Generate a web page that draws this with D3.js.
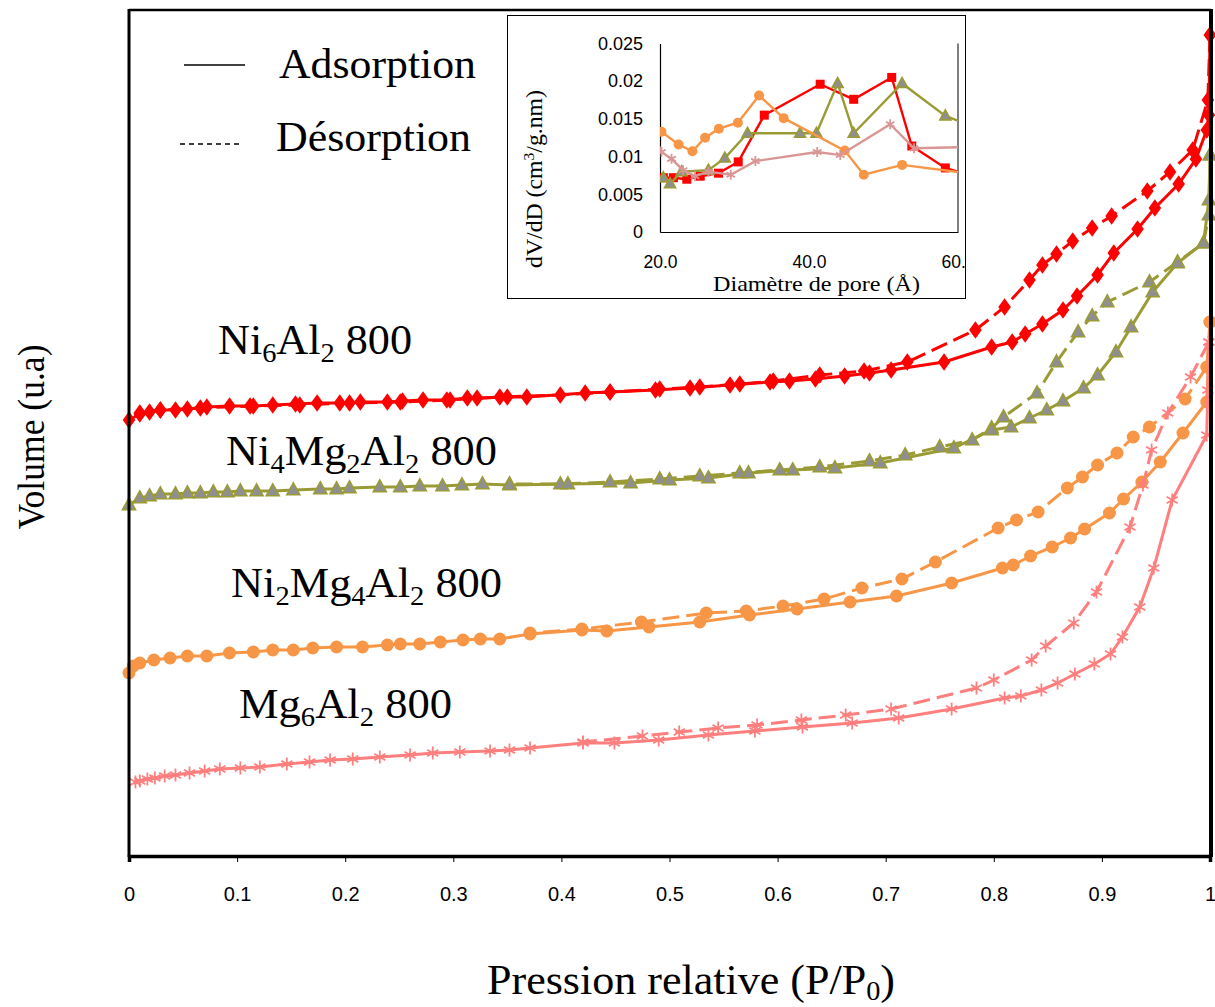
<!DOCTYPE html>
<html><head><meta charset="utf-8">
<script src="https://cdn.jsdelivr.net/npm/d3@7"></script>
<style>body{margin:0;background:#fff}svg{display:block}</style>
</head><body>
<script>
// ---------- DATA (P/P0, volume a.u.) ----------
const xTicks = [0,0.1,0.2,0.3,0.4,0.5,0.6,0.7,0.8,0.9,1];
const ni6Ads = [[0,436],[0.010,442],[0.019,444],[0.029,446],[0.043,446],[0.054,447],[0.072,449],[0.093,450],[0.115,450],[0.133,451],[0.154,452],[0.174,453],[0.195,453],[0.214,454],[0.239,454],[0.253,455],[0.272,456],[0.294,456],[0.313,458],[0.322,458],[0.350,459],[0.368,459],[0.422,463],[0.445,464],[0.487,466],[0.519,468],[0.556,471],[0.593,474],[0.611,475],[0.635,477],[0.662,480],[0.685,483],[0.705,486],[0.754,494],[0.798,509],[0.817,514],[0.829,522],[0.845,532],[0.864,546],[0.877,560],[0.896,581],[0.911,603],[0.933,627],[0.949,648],[0.971,672],[0.987,697],[0.997,726],[0.999,741],[1.000,821]];
const ni6Des = [[1.000,821],[0.998,756],[0.984,706],[0.963,684],[0.942,665],[0.909,640],[0.891,628],[0.873,615],[0.858,602],[0.845,591],[0.833,576],[0.810,549],[0.783,526],[0.720,494],[0.680,485],[0.639,481],[0.596,475],[0.565,472],[0.528,469],[0.491,467],[0.445,464],[0.399,461],[0.343,459],[0.297,456],[0.251,454],[0.204,453],[0.158,451],[0.112,450],[0.066,448],[0.029,446],[0.010,443]];
const ni4Ads = [[0,351],[0.010,358],[0.019,360],[0.029,362],[0.043,362],[0.054,363],[0.066,363],[0.078,364],[0.091,364],[0.103,365],[0.118,365],[0.133,365],[0.152,366],[0.177,367],[0.192,367],[0.204,368],[0.232,369],[0.251,369],[0.269,370],[0.290,370],[0.308,371],[0.327,372],[0.352,371],[0.406,372],[0.464,373],[0.500,376],[0.536,378],[0.573,383],[0.614,386],[0.653,388],[0.695,393],[0.763,408],[0.798,426],[0.816,429],[0.833,438],[0.849,446],[0.864,455],[0.883,468],[0.896,481],[0.913,504],[0.927,529],[0.947,564],[0.970,593],[0.994,613],[0.999,656],[1.000,701]];
const ni4Des = [[1.000,701],[0.999,641],[0.994,613],[0.970,594],[0.944,574],[0.905,554],[0.891,540],[0.878,524],[0.858,494],[0.840,463],[0.809,439],[0.798,428],[0.780,416],[0.750,409],[0.718,401],[0.685,395],[0.639,389],[0.602,386],[0.565,383],[0.528,380],[0.491,377],[0.445,374],[0.399,372],[0.352,372]];
const ni2Ads = [[0,183],[0.004,190],[0.010,193],[0.023,196],[0.038,198],[0.054,200],[0.072,200],[0.093,203],[0.115,204],[0.133,206],[0.152,206],[0.170,208],[0.192,209],[0.216,209],[0.239,211],[0.251,212],[0.269,212],[0.288,214],[0.309,216],[0.325,217],[0.343,217],[0.371,222],[0.419,226],[0.442,225],[0.481,229],[0.528,234],[0.574,241],[0.618,247],[0.667,254],[0.710,260],[0.761,273],[0.808,288],[0.818,291],[0.834,300],[0.854,309],[0.871,318],[0.884,327],[0.907,343],[0.920,357],[0.937,374],[0.954,394],[0.975,423],[0.997,454],[1.000,534]];
const ni2Des = [[1.000,534],[0.997,489],[0.977,457],[0.944,429],[0.929,419],[0.914,403],[0.896,391],[0.882,379],[0.868,368],[0.841,344],[0.821,336],[0.804,328],[0.746,294],[0.715,277],[0.678,268],[0.643,257],[0.605,250],[0.571,245],[0.534,243],[0.474,234],[0.419,227],[0.371,223]];
const mg6Ads = [[0.006,74],[0.010,75],[0.017,77],[0.024,78],[0.033,80],[0.043,81],[0.056,83],[0.070,85],[0.084,87],[0.103,88],[0.121,89],[0.146,92],[0.167,94],[0.186,96],[0.207,97],[0.232,99],[0.260,101],[0.281,103],[0.306,104],[0.334,105],[0.352,106],[0.371,108],[0.420,113],[0.449,113],[0.490,116],[0.536,121],[0.579,125],[0.623,129],[0.669,133],[0.712,138],[0.761,147],[0.810,158],[0.825,160],[0.844,166],[0.859,173],[0.875,182],[0.893,192],[0.908,202],[0.919,219],[0.935,249],[0.948,288],[0.965,356],[0.997,421],[0.998,466],[0.999,514]];
const mg6Des = [[0.999,514],[0.982,479],[0.961,443],[0.946,406],[0.938,371],[0.926,329],[0.895,264],[0.874,233],[0.848,210],[0.835,196],[0.800,176],[0.784,168],[0.705,147],[0.663,141],[0.622,136],[0.581,131],[0.545,128],[0.509,124],[0.475,120],[0.420,114]];

// inset: pore diameter (Å) vs dV/dD
const insetXTicks = [20,40,60];
const insetYTicks = [0,0.005,0.01,0.015,0.02,0.025];
const psdNi6 = [[20.45,0.0072],[21.8,0.0072],[23.6,0.0070],[25.4,0.0074],[27.85,0.0078],[30.5,0.0093],[34.0,0.0155],[41.5,0.0196],[46.0,0.0176],[51.1,0.0205],[53.8,0.0114],[58.3,0.0085],[62.0,0.0074]];
const psdNi4 = [[20.45,0.0072],[21.35,0.0064],[22.9,0.0080],[26.5,0.0082],[28.7,0.0098],[31.75,0.0131],[38.8,0.0131],[41.0,0.0131],[43.85,0.0197],[46.0,0.0131],[52.5,0.0197],[58.3,0.0154],[62.0,0.0140]];
const psdNi2 = [[19.0,0.0145],[20.2,0.0133],[22.5,0.0116],[24.35,0.0107],[26.05,0.0125],[27.9,0.0137],[30.45,0.0145],[33.3,0.0181],[36.6,0.0151],[44.8,0.0108],[47.35,0.0076],[52.5,0.0089],[62.0,0.0077]];
const psdMg6 = [[19.0,0.0135],[20.2,0.0106],[21.55,0.0097],[23.1,0.0082],[24.7,0.0074],[26.5,0.0080],[29.5,0.0076],[32.8,0.0094],[41.1,0.0106],[44.2,0.0102],[50.9,0.0143],[54.1,0.0111],[62.0,0.0113]];

// ---------- DRAW ----------
const W=1215,H=1007;
const svg=d3.select("body").append("svg").attr("width",W).attr("height",H);
const serif="'Liberation Serif','Times New Roman',serif";
const sans="'Liberation Sans',Arial,sans-serif";
const x=d3.scaleLinear().domain([0,1]).range([129,1210]);
const y=d3.scaleLinear().domain([0,846]).range([856,10]);

const RED="#FF0000",OLIVE="#9B9B36",ORANGE="#F79646",PINK="#FF7F7F";

function marker(g,type,px,py,col,s){
  if(type==="diamond"){
    g.append("path").attr("d",`M${px},${py-s*0.62}L${px+s*0.45},${py}L${px},${py+s*0.62}L${px-s*0.45},${py}Z`).attr("fill",col);
  }else if(type==="square"){
    g.append("rect").attr("x",px-s/2).attr("y",py-s/2).attr("width",s).attr("height",s).attr("fill",col);
  }else if(type==="triangle"){
    const h=s*0.9;
    g.append("path").attr("d",`M${px},${py-h*0.6}L${px+s/2},${py+h*0.4}L${px-s/2},${py+h*0.4}Z`).attr("fill","#8F8F8F").attr("stroke",OLIVE).attr("stroke-width",1.6);
  }else if(type==="circle"){
    g.append("circle").attr("cx",px).attr("cy",py).attr("r",s/2).attr("fill",col);
  }else if(type==="star"){
    const r=s/2;
    g.append("path").attr("d",`M${px},${py-r}L${px},${py+r}M${px-r*0.85},${py-r*0.5}L${px+r*0.85},${py+r*0.5}M${px-r*0.85},${py+r*0.5}L${px+r*0.85},${py-r*0.5}`).attr("stroke",col).attr("stroke-width",1.8).attr("fill","none");
  }
}

const mainSeries=[
  {ads:ni6Ads,des:ni6Des,col:RED,mk:"diamond",ms:14},
  {ads:ni4Ads,des:ni4Des,col:OLIVE,mk:"triangle",ms:13},
  {ads:ni2Ads,des:ni2Des,col:ORANGE,mk:"circle",ms:13},
  {ads:mg6Ads,des:mg6Des,col:PINK,mk:"star",ms:13}
];
const line=d3.line().x(d=>x(d[0])).y(d=>y(d[1]));
const gMain=svg.append("g");
mainSeries.forEach(s=>{
  const g=gMain.append("g");
  g.append("path").datum(s.des).attr("d",line).attr("fill","none").attr("stroke",s.col).attr("stroke-width",3).attr("stroke-dasharray","17,7");
  g.append("path").datum(s.ads).attr("d",line).attr("fill","none").attr("stroke",s.col).attr("stroke-width",3);
  s.des.concat(s.ads).forEach(d=>marker(g,s.mk,x(d[0]),y(d[1]),s.col,s.ms));
});

// frame
svg.append("line").attr("x1",129).attr("x2",1211).attr("y1",10).attr("y2",10).attr("stroke","#000").attr("stroke-width",2.5);
svg.append("line").attr("x1",129).attr("x2",129).attr("y1",9).attr("y2",857).attr("stroke","#000").attr("stroke-width",3);
svg.append("line").attr("x1",1211).attr("x2",1211).attr("y1",9).attr("y2",857).attr("stroke","#000").attr("stroke-width",4);

const xAxis=d3.axisBottom(x).tickValues(xTicks).tickSize(6).tickPadding(25).tickFormat(d=>String(d));
const gx=svg.append("g").attr("transform","translate(0,856)").call(xAxis);
gx.select(".domain").attr("stroke","#000").attr("stroke-width",3.5);
gx.selectAll(".tick line").attr("stroke","#000").attr("stroke-width",1);
gx.selectAll(".tick text").attr("font-family",sans).attr("font-size",20).attr("fill","#000");

function fit(t,w){return t.attr("textLength",w).attr("lengthAdjust","spacingAndGlyphs");}

// axis titles
const xt=svg.append("text").attr("x",487).attr("y",994).attr("font-family",serif).attr("font-size",42);
xt.append("tspan").text("Pression relative (P/P");
xt.append("tspan").attr("font-size",27).attr("dy",6).text("0");
xt.append("tspan").attr("dy",-6).text(")");
fit(xt,408);
fit(svg.append("text").attr("transform","translate(44,437) rotate(-90)").attr("text-anchor","middle").attr("font-family",serif).attr("font-size",37).text("Volume (u.a)"),185);

// legend
svg.append("line").attr("x1",184).attr("x2",245).attr("y1",65).attr("y2",65).attr("stroke","#000").attr("stroke-width",1.3);
svg.append("line").attr("x1",180).attr("x2",243).attr("y1",144).attr("y2",144).attr("stroke","#000").attr("stroke-width",1.3).attr("stroke-dasharray","5,4");
fit(svg.append("text").attr("x",279).attr("y",78).attr("font-family",serif).attr("font-size",42).text("Adsorption"),197);
fit(svg.append("text").attr("x",276).attr("y",151).attr("font-family",serif).attr("font-size",42).text("Désorption"),195);

// sample labels
function label(px,py,w,parts){
  const t=svg.append("text").attr("x",px).attr("y",py).attr("font-family",serif).attr("font-size",42);
  let sub=false;
  parts.forEach(p=>{
    const isSub=p[1];
    const ts=t.append("tspan").text(p[0]);
    if(isSub){ts.attr("font-size",27); if(!sub){ts.attr("dy",8);sub=true;}}
    else if(sub){ts.attr("dy",-8);sub=false;}
  });
  fit(t,w);
}
label(218,354,194,[["Ni",0],["6",1],["Al",0],["2",1],[" 800",0]]);
label(226,465,271,[["Ni",0],["4",1],["Mg",0],["2",1],["Al",0],["2",1],[" 800",0]]);
label(231,597,271,[["Ni",0],["2",1],["Mg",0],["4",1],["Al",0],["2",1],[" 800",0]]);
label(239,718,213,[["Mg",0],["6",1],["Al",0],["2",1],[" 800",0]]);

// ---------- INSET ----------
const ins=svg.append("g");
ins.append("rect").attr("x",507.5).attr("y",15.5).attr("width",458).attr("height",283).attr("fill","#fff").attr("stroke","#000").attr("stroke-width",1);
svg.append("clipPath").attr("id","insBox").append("rect").attr("x",508).attr("y",16).attr("width",457).attr("height",282);
svg.append("clipPath").attr("id","insPlot").append("rect").attr("x",660).attr("y",30).attr("width",298).attr("height",210);
const gi=ins.append("g").attr("clip-path","url(#insBox)");
const ix=d3.scaleLinear().domain([20,60]).range([660,958]);
const iy=d3.scaleLinear().domain([0,0.025]).range([232,43.5]);

const gix=gi.append("g").attr("transform","translate(0,232)").call(d3.axisBottom(ix).tickValues(insetXTicks).tickSize(0).tickPadding(24).tickFormat(d3.format(".1f")));
gix.select(".domain").attr("stroke","#000").attr("stroke-width",1.2);
gix.selectAll(".tick text").attr("font-family",sans).attr("font-size",17.5).attr("fill","#000");
const giy=gi.append("g").attr("transform","translate(660,0)").call(d3.axisLeft(iy).tickValues(insetYTicks).tickSize(0).tickPadding(17).tickFormat(d=>String(+d.toFixed(3))));
giy.select(".domain").attr("stroke","#000").attr("stroke-width",1.2);
giy.selectAll(".tick text").attr("font-family",sans).attr("font-size",18).attr("fill","#000");
gi.append("line").attr("x1",958).attr("x2",958).attr("y1",43.5).attr("y2",232).attr("stroke","#000").attr("stroke-width",1);

const iline=d3.line().x(d=>ix(d[0])).y(d=>iy(d[1]));
const gp=gi.append("g").attr("clip-path","url(#insPlot)");
const insetSeries=[
  {d:psdNi6,col:RED,mk:"square",ms:9},
  {d:psdNi4,col:OLIVE,mk:"triangle",ms:11},
  {d:psdNi2,col:ORANGE,mk:"circle",ms:10},
  {d:psdMg6,col:"#DA9694",mk:"star",ms:10}
];
insetSeries.forEach(s=>{
  const g=gp.append("g");
  g.append("path").datum(s.d).attr("d",iline).attr("fill","none").attr("stroke",s.col).attr("stroke-width",2.4);
  s.d.forEach(d=>marker(g,s.mk,ix(d[0]),iy(d[1]),s.col,s.ms));
});

fit(gi.append("text").attr("x",713).attr("y",291).attr("font-family",serif).attr("font-size",22).text("Diamètre de pore (Å)"),207);
const iyt=gi.append("text").attr("transform","translate(542,268) rotate(-90)").attr("font-family",serif).attr("font-size",23);
iyt.append("tspan").text("dV/dD (cm");
iyt.append("tspan").attr("font-size",15).attr("dy",-8).text("3");
iyt.append("tspan").attr("dy",8).text("/g.nm)");
fit(iyt,178);
</script>
</body></html>
